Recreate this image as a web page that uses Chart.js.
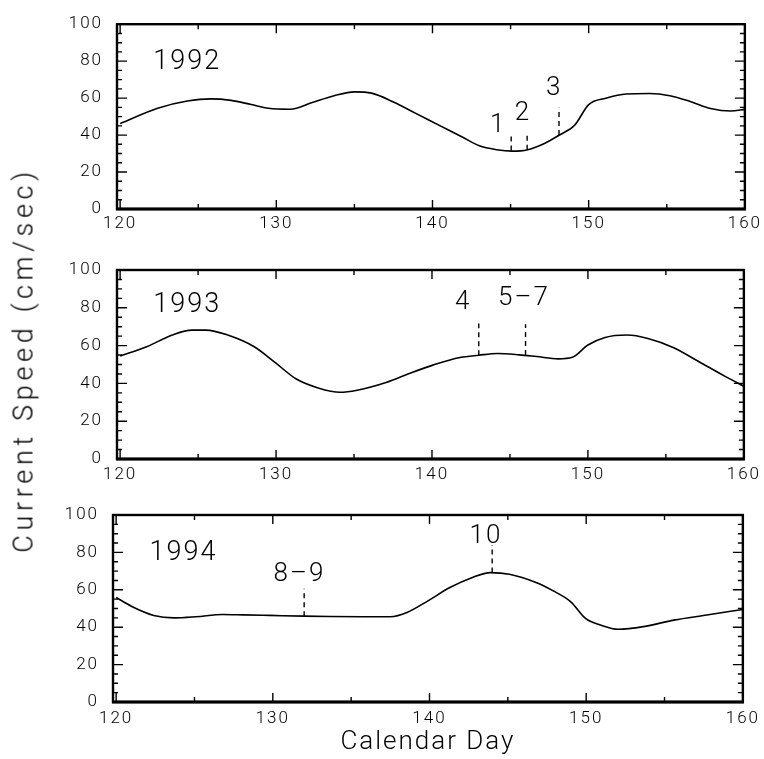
<!DOCTYPE html>
<html><head><meta charset="utf-8">
<script src="https://cdn.jsdelivr.net/npm/chart.js@4.4.1/dist/chart.umd.min.js"></script>
<style>
html,body{margin:0;padding:0;background:#fff;}
#wrap{position:relative;width:764px;height:759px;overflow:hidden;background:#fff;}
canvas{position:absolute;left:0;}
#ytitle{position:absolute;left:24px;top:360px;transform:translate(-50%,-50%) rotate(-90deg);font:300 27px Roboto,sans-serif;white-space:nowrap;color:#000;line-height:1;}
</style></head><body>
<div id="wrap">
<canvas id="c1" width="764" height="245" style="top:0px"></canvas>
<canvas id="c2" width="764" height="245" style="top:245px"></canvas>
<canvas id="c3" width="764" height="269" style="top:490px"></canvas>
<div id="ytitle">Current Speed (cm/sec)</div>
</div>
<script>
// ---------- data ----------
const xTickLabels = [120, 130, 140, 150, 160];
const yTickLabels = [0, 20, 40, 60, 80, 100];
const xTickMarks = [120, 125, 130, 135, 140, 145, 150, 155, 160];
const yTickMarks = [0,5,10,15,20,25,30,35,40,45,50,55,60,65,70,75,80,85,90,95,100];

const days1992 = [120,122.4,124.3,125.8,127.1,128.4,129.5,130.9,132.3,133.7,135.0,136.1,137.5,138.9,140.5,141.9,143.0,144.1,145.1,146.1,147.2,148.1,149.1,150.0,151.1,152.4,153.9,155.2,156.5,157.8,159.1,160];
const speed1992 = [46.2,54.5,58.4,59.6,58.8,56.5,54.5,54.0,57.6,61.3,63.4,62.7,57.9,51.9,45.0,39.0,34.2,32.1,31.3,32.1,35.6,39.9,45.3,56.5,59.9,62.2,62.5,61.3,58.2,54.4,53.0,53.9];

const days1993 = [120,121.7,123.35,124.6,125.5,126.9,128.6,129.95,131.3,132.7,134.1,135.2,137.1,138.5,140.1,141.8,143.0,144.2,145.6,146.7,148.1,149.0,150.0,151.1,152.5,153.85,155.5,157.1,158.8,160];
const speed1993 = [54.5,59.4,65.6,68.2,68.2,65.6,59.4,51.0,42.3,37.6,35.3,36.4,40.6,45.1,49.8,53.7,54.9,55.8,55.1,54.2,53.0,53.8,60.3,64.3,65.6,63.8,58.9,51.6,43.7,38.5];

const days1994 = [120,121.0,122.4,123.7,125.1,126.8,128.1,129.8,132.0,133.6,135.8,137.5,138.6,139.9,141.3,142.7,143.9,145.1,146.8,147.9,149.0,150.0,150.9,152.05,153.65,155.6,157.7,160];
const speed1994 = [55.9,51.1,46.3,45.0,45.6,46.8,46.6,46.3,45.9,45.7,45.6,45.6,48.0,54.1,61.2,66.5,69.2,68.3,63.9,59.4,53.7,44.4,41.2,38.9,40.3,43.8,46.5,49.5];

// dashed marker lines: day, lower end, upper end
const markDays1992 = [145.04, 146.06, 148.1];
const markLow1992  = [31.6, 32.1, 40.0];
const markHigh1992 = [40.9, 41.8, 54.8];
const markText1992 = ['1', '2', '3'];
const markTextX1992 = [144.2, 145.8, 147.8];
const markTextY1992 = [45.3, 51.8, 65.3];

const markDays1993 = [143.0, 146.0];
const markLow1993  = [54.9, 55.0];
const markHigh1993 = [71.7, 71.3];
const markText1993 = ['4', '5\u20137'];
const markTextX1993 = [142.0, 145.9];
const markTextY1993 = [83.0, 85.0];

const markDays1994 = [132.0, 144.0];
const markLow1994  = [45.9, 69.2];
const markHigh1994 = [60.5, 84.0];
const markText1994 = ['8\u20139', '10'];
const markTextX1994 = [131.7, 143.6];
const markTextY1994 = [68.0, 88.4];

const yearNames = ['1992', '1993', '1994'];
const yearX = [124.3, 124.3, 124.3];
const yearY = [79.4, 81.3, 79.5];

// ---------- layout (positions/styles) ----------
const FONT = 'Roboto, "DejaVu Sans", sans-serif';
const panels = [
  {id:'c1', days:days1992, speed:speed1992, mD:markDays1992, mL:markLow1992, mH:markHigh1992, tT:markText1992, tX:markTextX1992, tY:markTextY1992, yi:0,
   left:117, right:747, padTop:16, xh:36, xpad:5, xmin:119.8, title:false},
  {id:'c2', days:days1993, speed:speed1993, mD:markDays1993, mL:markLow1993, mH:markHigh1993, tT:markText1993, tX:markTextX1993, tY:markTextY1993, yi:1,
   left:117, right:747, padTop:25, xh:31, xpad:6, xmin:119.8, title:false},
  {id:'c3', days:days1994, speed:speed1994, mD:markDays1994, mL:markLow1994, mH:markHigh1994, tT:markText1994, tX:markTextX1994, tY:markTextY1994, yi:2,
   left:113, right:744, padTop:25, xh:57, xpad:7, xmin:119.8, title:true}
];

const spacingPlugin = {
  id:'spacing',
  beforeDraw(chart){ try { chart.ctx.letterSpacing = '2px'; } catch(e) {} }
};

const framePlugin = {
  id:'frame',
  afterDraw(chart){
    const {ctx, chartArea:a, scales:{x, y}} = chart;
    ctx.save();
    ctx.strokeStyle = '#000';
    ctx.setLineDash([]);
    ctx.lineWidth = 1.4;
    ctx.beginPath();
    xTickMarks.forEach(v => {
      const px = x.getPixelForValue(v);
      const len = v % 10 === 0 ? 9 : 5;
      ctx.moveTo(px, a.bottom); ctx.lineTo(px, a.bottom - len);
      ctx.moveTo(px, a.top); ctx.lineTo(px, a.top + len);
    });
    yTickMarks.forEach(v => {
      const py = y.getPixelForValue(v);
      const len = v % 20 === 0 ? 10 : 5;
      ctx.moveTo(a.left, py); ctx.lineTo(a.left + len, py);
      ctx.moveTo(a.right, py); ctx.lineTo(a.right - len, py);
    });
    ctx.stroke();
    ctx.lineWidth = 2.4;
    ctx.strokeRect(a.left, a.top, a.right - a.left, a.bottom - a.top);
    ctx.lineWidth = 3;
    ctx.beginPath(); ctx.moveTo(a.left - 1, a.bottom); ctx.lineTo(a.right + 1, a.bottom); ctx.stroke();
    ctx.restore();
  }
};

const textPlugin = {
  id:'texts',
  afterDraw(chart){
    const p = chart.options.plugins.texts;
    const {ctx, scales:{x, y}} = chart;
    ctx.save();
    ctx.fillStyle = '#000';
    ctx.textAlign = 'center';
    ctx.textBaseline = 'middle';
    try { ctx.letterSpacing = '2px'; } catch(e) {}
    ctx.font = '300 27px ' + FONT;
    ctx.fillText(yearNames[p.yi], x.getPixelForValue(yearX[p.yi]), y.getPixelForValue(yearY[p.yi]));
    ctx.font = '300 26px ' + FONT;
    p.tT.forEach((t, i) => {
      ctx.fillText(t, x.getPixelForValue(p.tX[i]), y.getPixelForValue(p.tY[i]));
    });
    ctx.restore();
  }
};

function makeChart(p){
  const datasets = [{
    data: p.days.map((d, i) => ({x:d, y:p.speed[i]})),
    borderColor:'#000', borderWidth:1.6, pointRadius:0, fill:false,
    cubicInterpolationMode:'monotone'
  }];
  p.mD.forEach((d, i) => {
    datasets.push({
      data:[{x:d, y:p.mL[i]}, {x:d, y:p.mH[i]}],
      borderColor:'#000', borderWidth:1.4, borderDash:[5,4], pointRadius:0, fill:false
    });
  });
  return new Chart(document.getElementById(p.id), {
    type:'line',
    data:{datasets},
    options:{
      responsive:false, animation:false, devicePixelRatio:1,
      layout:{padding:{top:p.padTop, right:764 - p.right, left:0, bottom:0}},
      plugins:{legend:{display:false}, tooltip:{enabled:false}, texts:{yi:p.yi, tT:p.tT, tX:p.tX, tY:p.tY}},
      scales:{
        x:{
          type:'linear', min:p.xmin, max:160,
          afterBuildTicks: s => { s.ticks = xTickLabels.map(v => ({value:v})); },
          afterFit: s => { s.height = p.xh; },
          grid:{display:false, drawTicks:false}, border:{display:false},
          ticks:{padding:p.xpad, color:'#000', maxRotation:0, autoSkip:false,
                 font:{family:FONT, size:17, weight:300}, callback: v => String(v)},
          title:{display:p.title, text:'Calendar Day', color:'#000',
                 font:{family:FONT, size:26, weight:300}, padding:{top:0, bottom:1}}
        },
        y:{
          type:'linear', min:0, max:100,
          afterBuildTicks: s => { s.ticks = yTickLabels.map(v => ({value:v})); },
          afterFit: s => { s.width = p.left; },
          grid:{display:false, drawTicks:false}, border:{display:false},
          ticks:{padding:14, color:'#000', font:{family:FONT, size:17, weight:300}, callback: v => String(v)}
        }
      }
    },
    plugins:[spacingPlugin, framePlugin, textPlugin]
  });
}

panels.forEach(makeChart);

// stretch the y title to the reference length
(function(){
  const el = document.getElementById('ytitle');
  const txt = el.textContent;
  const natural = el.offsetWidth;
  const target = 385;
  const sp = (target - natural) / txt.length;
  el.style.letterSpacing = sp.toFixed(2) + 'px';
})();
</script>
</body></html>
